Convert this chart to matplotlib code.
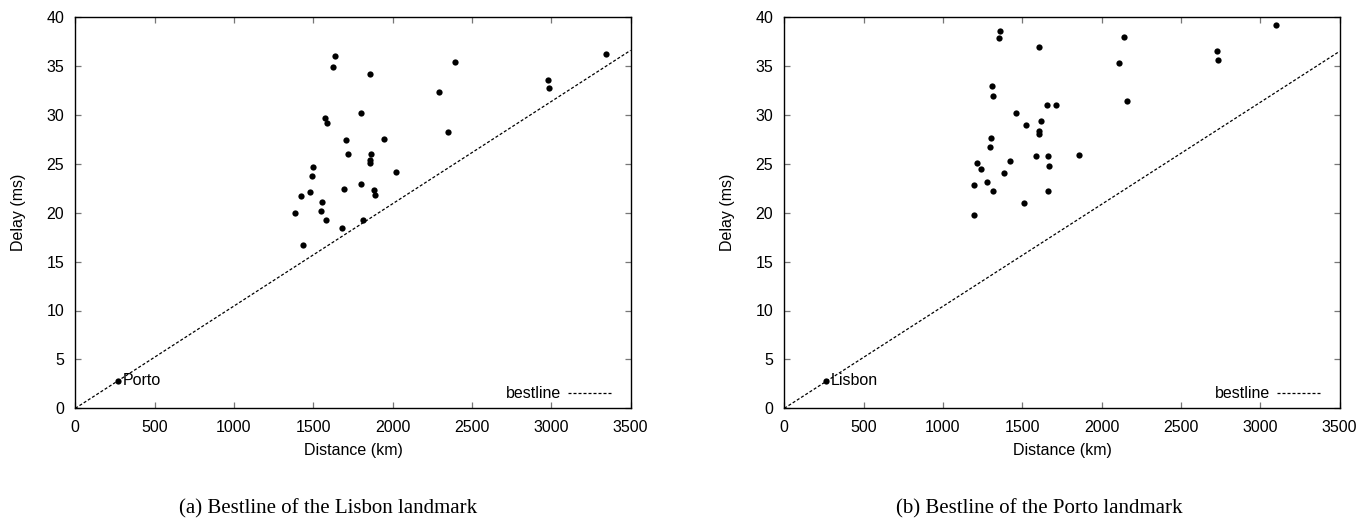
import matplotlib
matplotlib.use("Agg")
import matplotlib.pyplot as plt

plt.rcParams["font.family"] = ["Liberation Sans", "DejaVu Sans"]

# Distance (km) and delay (ms) of the probes seen from the Lisbon landmark
lisbon_dist = [1634, 1626, 1857, 2393, 2294, 3348, 2981, 2983, 2346, 1573,
               1584, 1802, 1708, 1945, 1720, 1863, 1857, 1859, 1496, 1492,
               2023, 1479, 1420, 1695, 1802, 1884, 1891, 1552, 1546, 1387,
               1582, 1811, 1681, 1433]
lisbon_delay = [36.0, 34.9, 34.2, 35.4, 32.3, 36.2, 33.6, 32.7, 28.3, 29.7,
                29.2, 30.2, 27.4, 27.5, 26.0, 26.0, 25.35, 25.05, 24.7, 23.75,
                24.2, 22.1, 21.7, 22.4, 22.9, 22.35, 21.8, 21.1, 20.15, 19.95,
                19.3, 19.3, 18.4, 16.7]

# Distance (km) and delay (ms) of the probes seen from the Porto landmark
porto_dist = [3098, 1359, 1355, 1605, 2138, 2109, 2727, 2731, 2159, 1311,
              1317, 1653, 1710, 1462, 1523, 1615, 1605, 1607, 1302, 1298,
              1588, 1660, 1859, 1666, 1422, 1214, 1242, 1382, 1195, 1279,
              1317, 1660, 1510, 1195]
porto_delay = [39.2, 38.6, 37.85, 36.9, 38.0, 35.3, 36.5, 35.6, 31.4, 33.0,
               31.9, 31.0, 31.0, 30.15, 29.0, 29.35, 28.4, 28.05, 27.65, 26.7,
               25.8, 25.75, 25.85, 24.8, 25.25, 25.1, 24.45, 24.05, 22.85, 23.15,
               22.25, 22.2, 21.0, 19.75]

# Reference landmark shown on each panel, lying on the bestline
ref_names = ["Porto", "Lisbon"]
ref_dist = [270, 265]
ref_delay = [2.8, 2.8]

# Bestline end points (distance km, delay ms)
best_x = [0, 3500]
best_y = [[0, 36.6], [0, 36.5]]

captions = ["(a) Bestline of the Lisbon landmark",
            "(b) Bestline of the Porto landmark"]

x_ticks = [0, 500, 1000, 1500, 2000, 2500, 3000, 3500]
y_ticks = [0, 5, 10, 15, 20, 25, 30, 35, 40]

W, H = 1368, 519
FS = 11.5
fig = plt.figure(figsize=(W / 100, H / 100), dpi=100)

panels = [(lisbon_dist, lisbon_delay), (porto_dist, porto_delay)]
lefts = [75.3, 784.3]
ax_w, ax_bottom, ax_h = 555.3, 408.3, 391.2

for i, (xs, ys) in enumerate(panels):
    ax = fig.add_axes([lefts[i] / W, (H - ax_bottom) / H, ax_w / W, ax_h / H])
    ax.plot(best_x, best_y[i], color="black", lw=0.9, dashes=(2.4, 1.6),
            label="bestline")
    ax.plot(xs, ys, "o", color="black", ms=4.5, mew=0, linestyle="none")
    ax.plot([ref_dist[i]], [ref_delay[i]], "o", color="black", ms=4.5, mew=0)
    ax.annotate(ref_names[i], (ref_dist[i], ref_delay[i]),
                xytext=(3.0, 0), textcoords="offset points",
                va="center", ha="left", fontsize=FS)

    ax.set_xlim(0, 3500)
    ax.set_ylim(0, 40)
    ax.set_xticks(x_ticks)
    ax.set_yticks(y_ticks)
    ax.tick_params(direction="in", length=4, width=0.9, color="#777777",
                   top=True, right=True, labelsize=FS, labelcolor="black")
    ax.tick_params(axis="x", pad=8.5)
    ax.tick_params(axis="y", pad=8)
    for s in ax.spines.values():
        s.set_linewidth(1.0)
        s.set_color("black")

    ax.set_xlabel("Distance (km)", fontsize=FS)
    ax.set_ylabel("Delay (ms)", fontsize=FS)
    ax.xaxis.set_label_coords(0.5, -0.1066)
    ax.xaxis.label.set_va("center")
    ax.yaxis.set_label_coords(-0.1026, 0.5)
    ax.yaxis.label.set_va("center")

    ax.legend(loc="center right", frameon=False, markerfirst=False,
              bbox_to_anchor=(0.967, 0.037), borderaxespad=0, borderpad=0,
              handlelength=2.8, handletextpad=0.4, fontsize=FS)

fig.text(328 / W, (H - 509) / H, captions[0], ha="center", va="center",
         fontsize=15, family=["Liberation Serif", "DejaVu Serif"])
fig.text(1039 / W, (H - 509) / H, captions[1], ha="center", va="center",
         fontsize=15, family=["Liberation Serif", "DejaVu Serif"])

fig.savefig("out.png", dpi=100)
